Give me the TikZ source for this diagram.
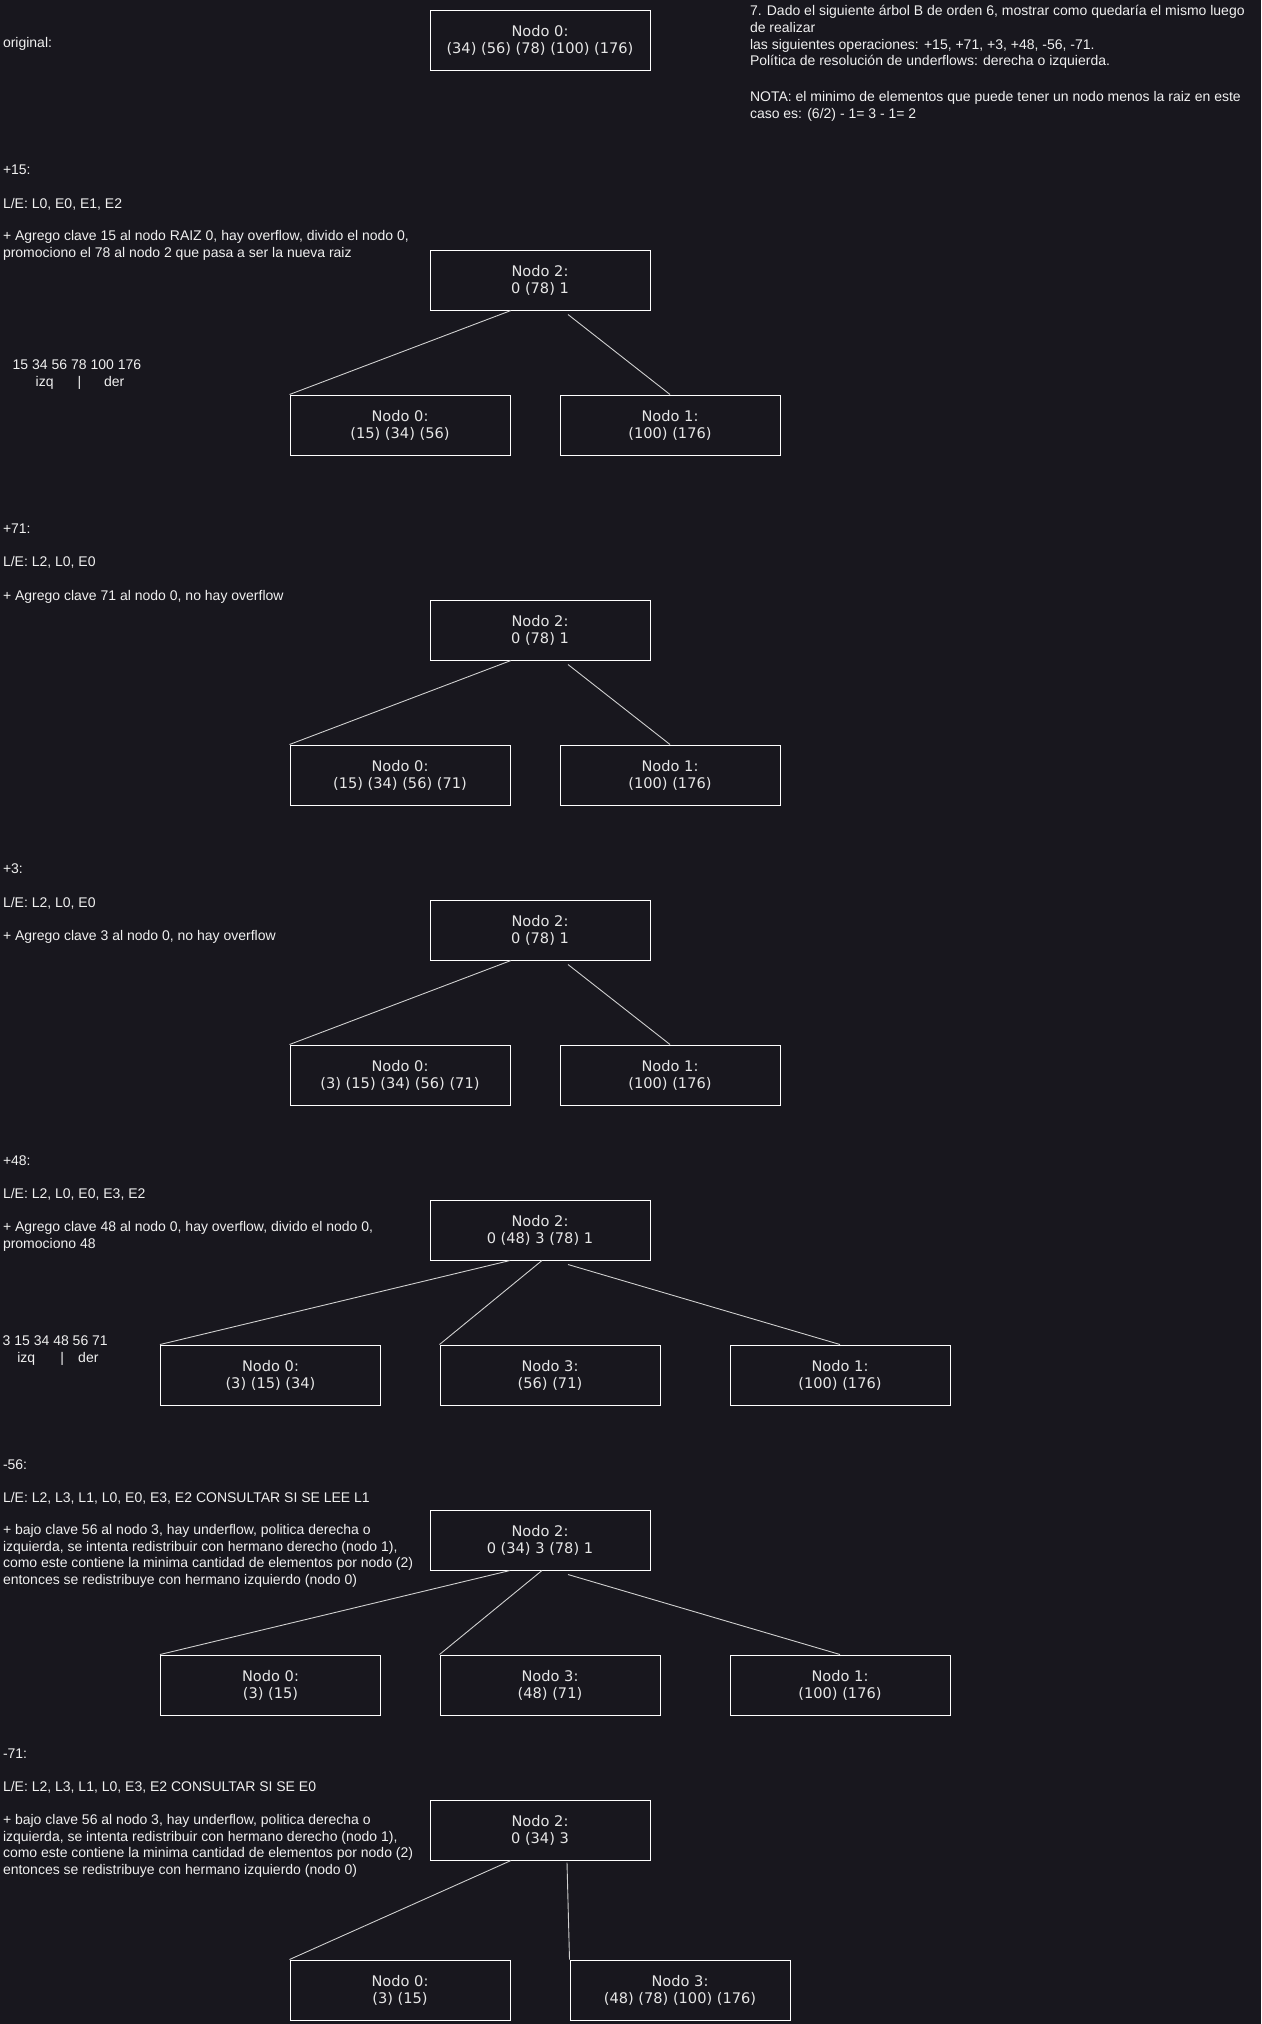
\documentclass[tikz,border=0pt]{standalone}
\usepackage{fontspec}
\setmainfont{Liberation Sans}
\newfontfamily\boxfamily{DejaVu Sans}
\usetikzlibrary{calc}
\definecolor{bgcol}{HTML}{18171E}
\definecolor{txtcol}{HTML}{F0F0F0}
\definecolor{nodetxt}{HTML}{E6E6E6}
\definecolor{edgecol}{HTML}{D0D0D0}
\newcommand\txtsize{\fontsize{14}{16.8}\selectfont}
\newcommand\boxsize{\boxfamily\fontsize{14.6}{17}\selectfont}
\begin{document}
\begin{tikzpicture}[x=1pt,y=-1pt,
  txt/.style={anchor=north west,inner sep=0pt,outer sep=0pt,align=left,font=\txtsize,text=txtcol,yshift=-2pt,execute at begin node=\strut},
  bnode/.style={draw=white,line width=1pt,minimum width=220pt,minimum height=60pt,inner sep=0pt,align=center,font=\boxsize,text=nodetxt},
  link/.style={draw=edgecol,line width=0.9pt}]
\fill[bgcol] (0,0) rectangle (1261,2024);
\useasboundingbox (0,0) rectangle (1261,2024);

% ---------- original ----------
\node[txt] (lorig) at (3,33.9) {original:};
\node[bnode] (orig) at (540,40.5) {Nodo 0:\\(34) (56) (78) (100) (176)};
\node[txt] (title) at (750,3.2) {7. Dado el siguiente árbol B de orden 6, mostrar como quedaría el mismo luego\\de realizar\\las siguientes operaciones: +15, +71, +3, +48, -56, -71.\\Política de resolución de underflows: derecha o izquierda.\\[18.5pt]NOTA: el minimo de elementos que puede tener un nodo menos la raiz en este\\caso es: (6/2) - 1= 3 - 1= 2};

% ---------- +15 ----------
\node[txt] (h15) at (3,161.2) {+15:};
\node[txt] (le15) at (3,195.2) {L/E: L0, E0, E1, E2};
\node[txt] (d15) at (3,228.2) {+ Agrego clave 15 al nodo RAIZ 0, hay overflow, divido el nodo 0,\\promociono el 78 al nodo 2 que pasa a ser la nueva raiz};
\node[txt] (s15) at (12.7,358.2) {15 34 56 78 100 176\\\hspace*{23pt}izq\hspace*{24.1pt}|\hspace*{22.7pt}der};
\node[bnode] (p15) at (540,280) {Nodo 2:\\0 (78) 1};
\node[bnode] (a15) at (400,425) {Nodo 0:\\(15) (34) (56)};
\node[bnode] (b15) at (670,425) {Nodo 1:\\(100) (176)};
\draw[link] ($(p15.south)+(-29,0)$) -- (a15.north west);
\draw[link] ($(p15.south)+(28,4)$) -- (b15.north);

% ---------- +71 ----------
\node[txt] (h71) at (3,520.2) {+71:};
\node[txt] (le71) at (3,553.2) {L/E: L2, L0, E0};
\node[txt] (d71) at (3,587.2) {+ Agrego clave 71 al nodo 0, no hay overflow};
\node[bnode] (p71) at (540,630) {Nodo 2:\\0 (78) 1};
\node[bnode] (a71) at (400,775) {Nodo 0:\\(15) (34) (56) (71)};
\node[bnode] (b71) at (670,775) {Nodo 1:\\(100) (176)};
\draw[link] ($(p71.south)+(-29,0)$) -- (a71.north west);
\draw[link] ($(p71.south)+(28,4)$) -- (b71.north);

% ---------- +3 ----------
\node[txt] (h3) at (3,860.2) {+3:};
\node[txt] (le3) at (3,894.2) {L/E: L2, L0, E0};
\node[txt] (d3) at (3,927.2) {+ Agrego clave 3 al nodo 0, no hay overflow};
\node[bnode] (p3) at (540,930) {Nodo 2:\\0 (78) 1};
\node[bnode] (a3) at (400,1075) {Nodo 0:\\(3) (15) (34) (56) (71)};
\node[bnode] (b3) at (670,1075) {Nodo 1:\\(100) (176)};
\draw[link] ($(p3.south)+(-29,0)$) -- (a3.north west);
\draw[link] ($(p3.south)+(28,4)$) -- (b3.north);

% ---------- +48 ----------
\node[txt] (h48) at (3,1152.2) {+48:};
\node[txt] (le48) at (3,1185.2) {L/E: L2, L0, E0, E3, E2};
\node[txt] (d48) at (3,1219.2) {+ Agrego clave 48 al nodo 0, hay overflow, divido el nodo 0,\\promociono 48};
\node[txt] (s48) at (2.7,1333.9) {3 15 34 48 56 71\\\hspace*{14.6pt}izq\hspace*{25.1pt}|\hspace*{14.3pt}der};
\node[bnode] (p48) at (540,1230) {Nodo 2:\\0 (48) 3 (78) 1};
\node[bnode] (a48) at (270.5,1375) {Nodo 0:\\(3) (15) (34)};
\node[bnode] (m48) at (550,1375) {Nodo 3:\\(56) (71)};
\node[bnode] (b48) at (840,1375) {Nodo 1:\\(100) (176)};
\draw[link] ($(p48.south)+(-30,0)$) -- (a48.north west);
\draw[link] ($(p48.south)+(2,0)$) -- (m48.north west);
\draw[link] ($(p48.south)+(28,4)$) -- (b48.north);

% ---------- -56 ----------
\node[txt] (h56) at (3,1456.2) {-56:};
\node[txt] (le56) at (3,1489.2) {L/E: L2, L3, L1, L0, E0, E3, E2 CONSULTAR SI SE LEE L1};
\node[txt] (d56) at (3,1522.2) {+ bajo clave 56 al nodo 3, hay underflow, politica derecha o\\izquierda, se intenta redistribuir con hermano derecho (nodo 1),\\como este contiene la minima cantidad de elementos por nodo (2)\\entonces se redistribuye con hermano izquierdo (nodo 0)};
\node[bnode] (p56) at (540,1540) {Nodo 2:\\0 (34) 3 (78) 1};
\node[bnode] (a56) at (270.5,1685) {Nodo 0:\\(3) (15)};
\node[bnode] (m56) at (550,1685) {Nodo 3:\\(48) (71)};
\node[bnode] (b56) at (840,1685) {Nodo 1:\\(100) (176)};
\draw[link] ($(p56.south)+(-30,0)$) -- (a56.north west);
\draw[link] ($(p56.south)+(2,0)$) -- (m56.north west);
\draw[link] ($(p56.south)+(28,4)$) -- (b56.north);

% ---------- -71 ----------
\node[txt] (h71b) at (3,1745.2) {-71:};
\node[txt] (le71b) at (3,1778.2) {L/E: L2, L3, L1, L0, E3, E2 CONSULTAR SI SE E0};
\node[txt] (d71b) at (3,1812.2) {+ bajo clave 56 al nodo 3, hay underflow, politica derecha o\\izquierda, se intenta redistribuir con hermano derecho (nodo 1),\\como este contiene la minima cantidad de elementos por nodo (2)\\entonces se redistribuye con hermano izquierdo (nodo 0)};
\node[bnode] (p71b) at (540,1830) {Nodo 2:\\0 (34) 3};
\node[bnode] (a71b) at (400,1990) {Nodo 0:\\(3) (15)};
\node[bnode] (m71b) at (680,1990) {Nodo 3:\\(48) (78) (100) (176)};
\draw[link] ($(p71b.south)+(-29,0)$) -- (a71b.north west);
\draw[link] ($(p71b.south)+(27,2)$) -- (m71b.north west);
\end{tikzpicture}
\end{document}
